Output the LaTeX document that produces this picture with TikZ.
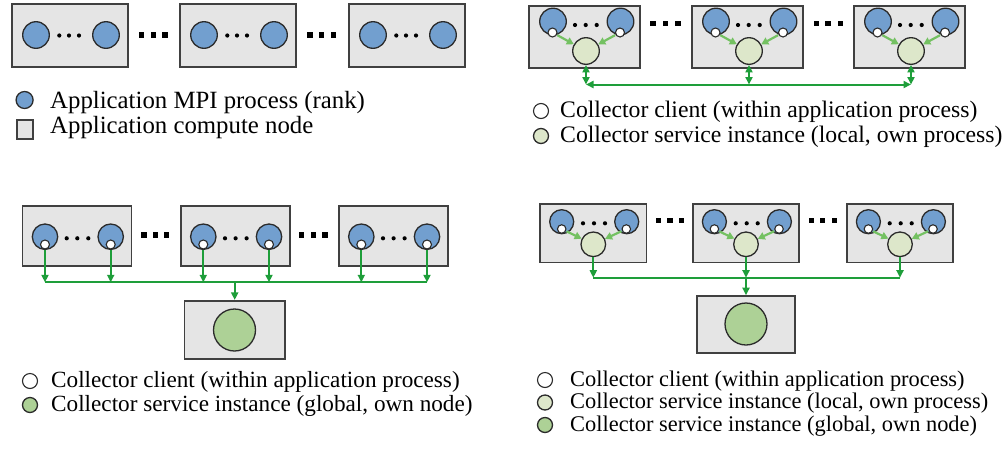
\documentclass[tikz,border=0pt]{standalone}
\usepackage{fontspec}
\setmainfont{Liberation Serif}
\usetikzlibrary{arrows.meta}

\definecolor{boxfill}{HTML}{E5E5E5}
\definecolor{boxline}{HTML}{404040}
\definecolor{circline}{HTML}{2B2B2B}
\definecolor{mpiblue}{HTML}{729FCF}
\definecolor{localgreen}{HTML}{DDE7CA}
\definecolor{globalgreen}{HTML}{ADD196}
\definecolor{linkgreen}{HTML}{1E9E3A}
\definecolor{feedgreen}{HTML}{74C162}

\tikzset{
  cnode/.style={rectangle, draw=boxline, fill=boxfill, line width=1.6pt, inner sep=0pt},
  rank/.style={circle, draw=circline, fill=mpiblue, line width=1.3pt, inner sep=0pt},
  client/.style={circle, draw=circline, fill=white, line width=1.1pt, inner sep=0pt, minimum size=9pt},
  localsvc/.style={circle, draw=circline, fill=localgreen, line width=1.3pt, inner sep=0pt},
  globalsvc/.style={circle, draw=circline, fill=globalgreen, line width=1.3pt, inner sep=0pt, minimum size=42pt},
  sdot/.style={circle, fill=black, inner sep=0pt, minimum size=4.2pt},
  bdot/.style={rectangle, fill=black, inner sep=0pt, minimum size=5.4pt},
  link/.style={draw=linkgreen, line width=2pt},
  tip/.style={-{Triangle[width=7pt,length=7.5pt]}},
  dtip/.style={{Triangle[width=7pt,length=7.5pt]}-{Triangle[width=7pt,length=7.5pt]}},
  feed/.style={draw=feedgreen, line width=2.2pt, -{Triangle[width=7.5pt,length=7pt]}, shorten <=0.5pt},
  legtext/.style={anchor=base west, inner sep=0pt, text=black},
}

\begin{document}
\begin{tikzpicture}[x=1pt, y=-1pt]
\useasboundingbox (0,0) rectangle (1008,448);

% ---------------- ranks only ----------------
\foreach \i/\x in {1/11, 2/179, 3/348} {
  \node[cnode, anchor=north west, minimum width=116pt, minimum height=63pt] (p1b\i) at (\x,3) {};
  \node[rank, minimum size=26.6pt] (p1ra\i) at (\x+25,35) {};
  \node[rank, minimum size=26.6pt] (p1rb\i) at (\x+95,35) {};
  \foreach \d in {48.3,58,68} \node[sdot] at (\x+\d,35.5) {};
}
\foreach \x in {141.7,153.3,165,310,321.7,333.3} \node[bdot] at (\x,35) {};

\begin{scope}[font=\fontsize{24.8pt}{25pt}\selectfont]
  \node[rank, minimum size=17pt] (p1lr) at (24.6,100) {};
  \node[legtext] (p1tr) at (50,108) {Application MPI process (rank)};
  \node[cnode, line width=1.2pt, minimum width=16pt, minimum height=19pt] (p1ln) at (25,129.5) {};
  \node[legtext] (p1tn) at (50,133) {Application compute node};
\end{scope}

% ---------------- local collectors, peer exchange ----------------
\foreach \i/\x in {1/528, 2/691, 3/853} {
  \node[cnode, anchor=north west, minimum width=111pt, minimum height=62pt] (p2b\i) at (\x,5) {};
  \node[rank, minimum size=26.6pt] (p2ra\i) at (\x+25,21.5) {};
  \node[rank, minimum size=26.6pt] (p2rb\i) at (\x+92.5,21.5) {};
  \node[client] (p2ca\i) at (\x+24.5,32.5) {};
  \node[client] (p2cb\i) at (\x+92,32.5) {};
  \node[localsvc, minimum size=26.6pt] (p2s\i) at (\x+58,51) {};
  \foreach \d in {47,57.7,68.7} \node[sdot] at (\x+\d,25) {};
  \draw[feed] (p2ca\i) -- (p2s\i);
  \draw[feed] (p2cb\i) -- (p2s\i);
  \coordinate (p2j\i) at (p2s\i |- 0,84.5);
  \draw[link, dtip] (p2s\i) -- (p2j\i);
}
\draw[link, dtip] (p2j1) -- (p2j3);
\foreach \x in {653,665.7,678,816.7,828,840.7} \node[bdot] at (\x,23.3) {};

\begin{scope}[font=\fontsize{23.7pt}{25pt}\selectfont]
  \node[client, minimum size=15pt] (p2lc) at (541,111) {};
  \node[legtext] (p2tc) at (560,117) {Collector client (within application process)};
  \node[localsvc, minimum size=15pt] (p2ls) at (541,136) {};
  \node[legtext] (p2ts) at (560,142) {Collector service instance (local, own process)};
\end{scope}

% ---------------- global collector on its own node ----------------
\foreach \i/\x in {1/21.7, 2/180, 3/338} {
  \node[cnode, anchor=north west, minimum width=109pt, minimum height=60pt] (p3b\i) at (\x,205) {};
  \node[rank, minimum size=25.4pt] (p3ra\i) at (\x+23.3,236.7) {};
  \node[rank, minimum size=25.4pt] (p3rb\i) at (\x+89,236.7) {};
  \node[client] (p3ca\i) at (\x+23.3,244.5) {};
  \node[client] (p3cb\i) at (\x+89,244.5) {};
  \foreach \d in {45,55.6,66.6} \node[sdot] at (\x+\d,238.3) {};
  \coordinate (p3ja\i) at (p3ca\i |- 0,282.3);
  \coordinate (p3jb\i) at (p3cb\i |- 0,282.3);
  \draw[link, tip] (p3ca\i) -- (p3ja\i);
  \draw[link, tip] (p3cb\i) -- (p3jb\i);
}
\draw[link] (p3ja1) -- (p3jb3);
\foreach \x in {144,155.7,166.7,301.7,313.3,325} \node[bdot] at (\x,235) {};

\node[cnode, minimum width=100.7pt, minimum height=58.3pt] (p3g) at (234.7,329.9) {};
\node[globalsvc] (p3gs) at (234.5,330) {};
\coordinate (p3jm) at (p3g.north |- 0,282.3);
\draw[link, tip] (p3jm) -- (p3g.north);

\begin{scope}[font=\fontsize{23.2pt}{25pt}\selectfont]
  \node[client, minimum size=15pt] (p3lc) at (30,381) {};
  \node[legtext] (p3tc) at (51,387) {Collector client (within application process)};
  \node[globalsvc, minimum size=15pt] (p3lg) at (30,405) {};
  \node[legtext] (p3tg) at (51,411) {Collector service instance (global, own node)};
\end{scope}

% ---------------- local collectors feeding a global one ----------------
\foreach \i/\x in {1/539.3, 2/692, 3/846} {
  \node[cnode, anchor=north west, minimum width=106.4pt, minimum height=58.4pt] (p4b\i) at (\x,203.3) {};
  \node[rank, minimum size=24pt] (p4ra\i) at (\x+22.4,221.7) {};
  \node[rank, minimum size=24pt] (p4rb\i) at (\x+87.4,221.7) {};
  \node[client, minimum size=8.5pt] (p4ca\i) at (\x+22.4,229) {};
  \node[client, minimum size=8.5pt] (p4cb\i) at (\x+87,229) {};
  \node[localsvc, minimum size=24.6pt] (p4s\i) at (\x+54,244.3) {};
  \foreach \d in {43.7,54.7,65.7} \node[sdot] at (\x+\d,223.3) {};
  \draw[feed] (p4ca\i) -- (p4s\i);
  \draw[feed] (p4cb\i) -- (p4s\i);
  \coordinate (p4j\i) at (p4s\i |- 0,277.7);
  \draw[link, tip] (p4s\i) -- (p4j\i);
}
\draw[link] (p4j1) -- (p4j3);
\foreach \x in {658.3,670,681.7,811.7,822.7,834.3} \node[bdot] at (\x,220.7) {};

\node[cnode, minimum width=98pt, minimum height=57pt] (p4g) at (746,324.5) {};
\node[globalsvc] (p4gs) at (746,324) {};
\draw[link, tip] (p4j2) -- (p4g.north);

\begin{scope}[font=\fontsize{22.4pt}{25pt}\selectfont]
  \node[client, minimum size=15pt] (p4lc) at (545,380) {};
  \node[legtext] (p4tc) at (570,386) {Collector client (within application process)};
  \node[localsvc, minimum size=15pt] (p4ls) at (545,402.5) {};
  \node[legtext] (p4ts) at (570,408.5) {Collector service instance (local, own process)};
  \node[globalsvc, minimum size=15pt] (p4lg) at (545,425) {};
  \node[legtext] (p4tg) at (570,431) {Collector service instance (global, own node)};
\end{scope}
\end{tikzpicture}
\end{document}
